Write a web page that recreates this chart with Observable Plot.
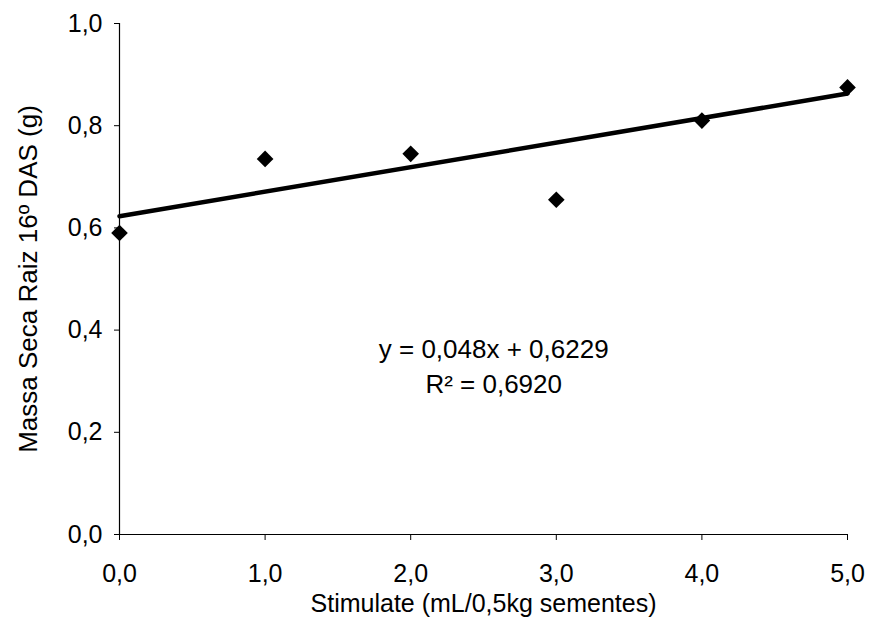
<!DOCTYPE html>
<html>
<head>
<meta charset="utf-8">
<script src="https://cdn.jsdelivr.net/npm/d3@7"></script>
<script src="https://cdn.jsdelivr.net/npm/@observablehq/plot@0.6"></script>
<style>
  html, body { margin: 0; padding: 0; background: #fff; }
  #chart svg { display: block; }
</style>
</head>
<body>
<div id="chart"></div>
<script>
const doses = [0, 1, 2, 3, 4, 5];
const massa = [0.59, 0.735, 0.745, 0.655, 0.81, 0.875];
const trendX = [0, 5];
const trendY = [0.6229, 0.8629];
const xTicks = [0, 1, 2, 3, 4, 5];
const yTicks = [0, 0.2, 0.4, 0.6, 0.8, 1.0];
const xTitle = "Stimulate (mL/0,5kg sementes)";
const yTitle = "Massa Seca Raiz 16º DAS (g)";
const equation = "y = 0,048x + 0,6229\nR² = 0,6920";

const points = doses.map((d, i) => ({x: d, y: massa[i]}));
const trend = trendX.map((d, i) => ({x: d, y: trendY[i]}));
const fmt = d => d.toFixed(1).replace(".", ",");
const font = "Liberation Sans, Arial, sans-serif";

const chart = Plot.plot({
  width: 870,
  height: 637,
  marginLeft: 119,
  marginRight: 23,
  marginTop: 23,
  marginBottom: 103,
  style: {fontFamily: font, fontSize: "25px", color: "#000", background: "#fff"},
  x: {domain: [0, 5]},
  y: {domain: [0, 1]},
  marks: [
    Plot.axisY({ticks: yTicks, tickFormat: fmt, tickSize: 5, tickPadding: 12, label: null, fontSize: 25}),
    Plot.axisX({ticks: xTicks, tickFormat: fmt, tickSize: 6, tickPadding: 24, label: null, fontSize: 25}),
    Plot.ruleX([0], {stroke: "#000", strokeWidth: 1.2}),
    Plot.ruleY([0], {stroke: "#000", strokeWidth: 1.2}),
    Plot.line(trend, {x: "x", y: "y", stroke: "#000", strokeWidth: 4.5}),
    Plot.dot(points, {x: "x", y: "y", symbol: "diamond2", r: 7.5, fill: "#000", stroke: "none"}),
    Plot.text([equation], {x: 2.57, y: 0.334, text: d => d, fontSize: 26, lineHeight: 1.35, textAnchor: "middle", lineAnchor: "middle", fill: "#000"}),
    Plot.text([xTitle], {frameAnchor: "bottom", dy: 69, text: d => d, fontSize: 25, textAnchor: "middle", lineAnchor: "middle", fill: "#000"}),
    Plot.text([yTitle], {frameAnchor: "left", dx: -91, rotate: -90, text: d => d, fontSize: 26, textAnchor: "middle", lineAnchor: "middle", fill: "#000"})
  ]
});
document.getElementById("chart").appendChild(chart);
</script>
</body>
</html>
